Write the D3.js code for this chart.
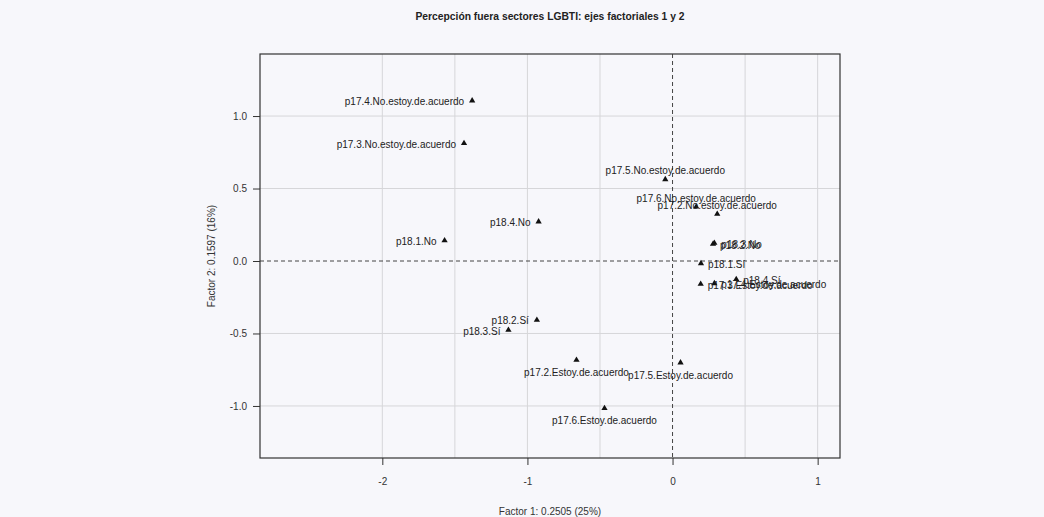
<!DOCTYPE html>
<html>
<head>
<meta charset="utf-8">
<script src="https://cdn.jsdelivr.net/npm/d3@7"></script>
<style>
  body { margin: 0; background: #f7f7fb; }
  svg { display: block; font-family: "Liberation Sans", Arial, sans-serif; }
</style>
</head>
<body>
<svg id="chart" width="1044" height="517"></svg>
<script>
// modalities (categories) and their coordinates on factor 1 / factor 2
const labels = [
  "p17.4.No.estoy.de.acuerdo", "p17.3.No.estoy.de.acuerdo", "p17.5.No.estoy.de.acuerdo",
  "p17.6.No.estoy.de.acuerdo", "p17.2.No.estoy.de.acuerdo", "p18.2.No", "p18.3.No",
  "p18.1.Sí", "p18.4.Sí", "p17.3.Estoy.de.acuerdo", "p17.4.Estoy.de.acuerdo",
  "p18.4.No", "p18.1.No", "p18.2.Sí", "p18.3.Sí",
  "p17.2.Estoy.de.acuerdo", "p17.5.Estoy.de.acuerdo", "p17.6.Estoy.de.acuerdo"
];
const dim1 = [-1.381, -1.437, -0.050, 0.163, 0.308, 0.279, 0.288, 0.196, 0.439, 0.194, 0.288,
  -0.923, -1.571, -0.935, -1.131, -0.662, 0.055, -0.469];
const dim2 = [1.106, 0.812, 0.563, 0.374, 0.324, 0.117, 0.124, -0.016, -0.126, -0.159, -0.155,
  0.272, 0.141, -0.407, -0.476, -0.683, -0.701, -1.016];

const xTicks = [-2, -1, 0, 1];
const yTicks = [-1.0, -0.5, 0.0, 0.5, 1.0];
const xGrid = [-2, -1.5, -1, -0.5, 0.5, 1];
const yGrid = [-1, -0.5, 0.5, 1];

const title = "Percepción fuera sectores LGBTI: ejes factoriales 1 y 2";
const xTitle = "Factor 1: 0.2505 (25%)";
const yTitle = "Factor 2: 0.1597 (16%)";

// where each label sits relative to its point
const labelSide = {
  "p17.4.No.estoy.de.acuerdo": "left", "p17.3.No.estoy.de.acuerdo": "left",
  "p17.5.No.estoy.de.acuerdo": "above", "p17.6.No.estoy.de.acuerdo": "above",
  "p17.2.No.estoy.de.acuerdo": "above",
  "p18.4.No": "left", "p18.1.No": "left", "p18.2.Sí": "left", "p18.3.Sí": "left",
  "p17.2.Estoy.de.acuerdo": "below", "p17.5.Estoy.de.acuerdo": "below",
  "p17.6.Estoy.de.acuerdo": "below"
};

const svg = d3.select("#chart");
const W = 1044, H = 517;
const m = { left: 260, right: 840, top: 54, bottom: 458 };

svg.append("rect").attr("width", W).attr("height", H).attr("fill", "#f7f7fb");

const x = d3.scaleLinear().domain([-2.843, 1.154]).range([m.left, m.right]);
const y = d3.scaleLinear().domain([-1.359, 1.428]).range([m.bottom, m.top]);

// R style numbers: plain hyphen for negatives
const fmtX = d => String(d);
const fmtY = d => d.toFixed(1);

// grid
svg.append("g").selectAll("line").data(xGrid).enter().append("line")
  .attr("x1", d => x(d)).attr("x2", d => x(d))
  .attr("y1", m.top).attr("y2", m.bottom)
  .attr("stroke", "#d6d6d9").attr("stroke-width", 1);
svg.append("g").selectAll("line").data(yGrid).enter().append("line")
  .attr("y1", d => y(d)).attr("y2", d => y(d))
  .attr("x1", m.left).attr("x2", m.right)
  .attr("stroke", "#d6d6d9").attr("stroke-width", 1);

// zero lines
svg.append("line")
  .attr("x1", x(0)).attr("x2", x(0)).attr("y1", m.top).attr("y2", m.bottom)
  .attr("stroke", "#444").attr("stroke-dasharray", "4,3");
svg.append("line")
  .attr("y1", y(0)).attr("y2", y(0)).attr("x1", m.left).attr("x2", m.right)
  .attr("stroke", "#444").attr("stroke-dasharray", "4,3");

// axes
const xAxis = svg.append("g")
  .attr("transform", "translate(0," + m.bottom + ")")
  .call(d3.axisBottom(x).tickValues(xTicks).tickFormat(fmtX).tickSize(7).tickPadding(13));
const yAxis = svg.append("g")
  .attr("transform", "translate(" + m.left + ",0)")
  .call(d3.axisLeft(y).tickValues(yTicks).tickFormat(fmtY).tickSize(7).tickPadding(6));
[xAxis, yAxis].forEach(a => {
  a.select(".domain").remove();
  a.selectAll("line").attr("stroke", "#333");
  a.selectAll("text").attr("fill", "#333").style("font-size", "10px")
    .style("font-family", "Liberation Sans, Arial, sans-serif");
});

// box
svg.append("rect")
  .attr("x", m.left).attr("y", m.top)
  .attr("width", m.right - m.left).attr("height", m.bottom - m.top)
  .attr("fill", "none").attr("stroke", "#333").attr("stroke-width", 1.2);

// points
const pts = labels.map((l, i) => ({ label: l, x: dim1[i], y: dim2[i] }));
const tri = d3.symbol().type(d3.symbolTriangle).size(17);

svg.append("g").selectAll("path").data(pts).enter().append("path")
  .attr("d", tri)
  .attr("transform", d => "translate(" + x(d.x) + "," + y(d.y) + ")")
  .attr("fill", "#111");

svg.append("g").selectAll("text").data(pts).enter().append("text")
  .attr("x", d => {
    const s = labelSide[d.label] || "right";
    if (s === "left") return x(d.x) - 8;
    if (s === "right") return x(d.x) + 7;
    return x(d.x);
  })
  .attr("y", d => {
    const s = labelSide[d.label] || "right";
    if (s === "above") return y(d.y) - 8.5;
    if (s === "below") return y(d.y) + 12.5;
    return y(d.y) + 1;
  })
  .attr("text-anchor", d => {
    const s = labelSide[d.label] || "right";
    return s === "left" ? "end" : s === "right" ? "start" : "middle";
  })
  .attr("dominant-baseline", "central")
  .attr("fill", "#222")
  .style("font-size", "10px")
  .text(d => d.label);

// titles
svg.append("text")
  .attr("x", (m.left + m.right) / 2).attr("y", 16)
  .attr("text-anchor", "middle").attr("dominant-baseline", "central")
  .style("font-size", "10.3px").style("font-weight", "bold").attr("fill", "#222")
  .text(title);
svg.append("text")
  .attr("x", (m.left + m.right) / 2).attr("y", 511)
  .attr("text-anchor", "middle").attr("dominant-baseline", "central")
  .style("font-size", "10px").attr("fill", "#333")
  .text(xTitle);
svg.append("text")
  .attr("transform", "translate(211," + (m.top + m.bottom) / 2 + ") rotate(-90)")
  .attr("text-anchor", "middle").attr("dominant-baseline", "central")
  .style("font-size", "10px").attr("fill", "#333")
  .text(yTitle);
</script>
</body>
</html>
